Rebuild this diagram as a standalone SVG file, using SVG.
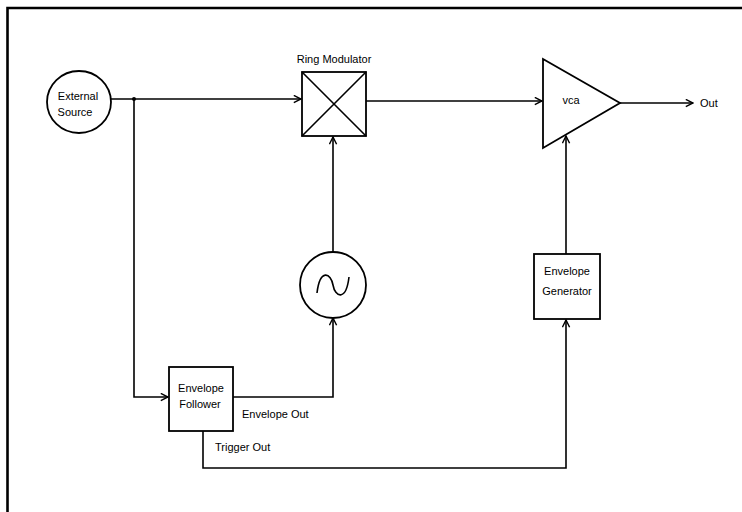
<svg xmlns="http://www.w3.org/2000/svg" width="742" height="512" viewBox="0 0 742 512">
<defs>
<style>
.ln{fill:none;stroke:#000;stroke-width:1.6}
.sh{fill:#fff;stroke:#000;stroke-width:1.8}
.t{font-family:"Liberation Sans",Arial,sans-serif;font-size:11px;fill:#000}
.c{text-anchor:middle}
</style>
<marker id="ah" viewBox="0 0 10 10" refX="9" refY="5" markerWidth="9" markerHeight="9" markerUnits="userSpaceOnUse" orient="auto">
<path d="M1,1 L9,5 L1,9" fill="none" stroke="#000" stroke-width="1.6"/>
</marker>
</defs>
<rect width="742" height="512" fill="#fff"/>
<path d="M7.5,512 V8 H742" fill="none" stroke="#000" stroke-width="2.6"/>

<g id="connectors">
<path class="ln" d="M111,99 H301" marker-end="url(#ah)"/>
<circle cx="134" cy="99" r="2" fill="#000"/>
<path class="ln" d="M366,101 H542" marker-end="url(#ah)"/>
<path class="ln" d="M620,103 H693" marker-end="url(#ah)"/>
<path class="ln" d="M333,252 V137" marker-end="url(#ah)"/>
<path class="ln" d="M566,254 V136" marker-end="url(#ah)"/>
<path class="ln" d="M134,99 V397 H168" marker-end="url(#ah)"/>
<path class="ln" d="M233,397 H333 V318" marker-end="url(#ah)"/>
<path class="ln" d="M203,431 V468 H566 V320" marker-end="url(#ah)"/>
</g>

<g id="external-source">
<ellipse class="sh" cx="79" cy="102" rx="32" ry="31"/>
<text class="t c" x="78" y="100">External</text>
<text class="t c" x="75" y="116">Source</text>
</g>

<g id="ring-modulator">
<rect class="sh" x="302" y="72" width="64" height="64"/>
<path class="ln" d="M302,72 L366,136 M366,72 L302,136"/>
<text class="t c" x="334" y="63">Ring Modulator</text>
</g>

<g id="vca">
<path class="sh" d="M543,59 L620,103 L543,148 Z"/>
<text class="t c" x="571" y="104">vca</text>
</g>
<text class="t" x="700" y="107">Out</text>

<g id="oscillator">
<ellipse class="sh" cx="333" cy="285" rx="33" ry="33"/>
<path class="ln" d="M317,293 C320,268 331,273 333,285 C335,297 346,302 349,277" stroke-width="2.2"/>
</g>

<g id="envelope-generator">
<rect class="sh" x="534" y="254" width="66" height="65"/>
<text class="t c" x="567" y="275">Envelope</text>
<text class="t c" x="567" y="295">Generator</text>
</g>

<g id="envelope-follower">
<rect class="sh" x="169" y="367" width="64" height="64"/>
<text class="t c" x="201" y="392">Envelope</text>
<text class="t c" x="200" y="408">Follower</text>
</g>
<text class="t" x="242" y="418">Envelope Out</text>
<text class="t" x="215" y="451">Trigger Out</text>
</svg>
